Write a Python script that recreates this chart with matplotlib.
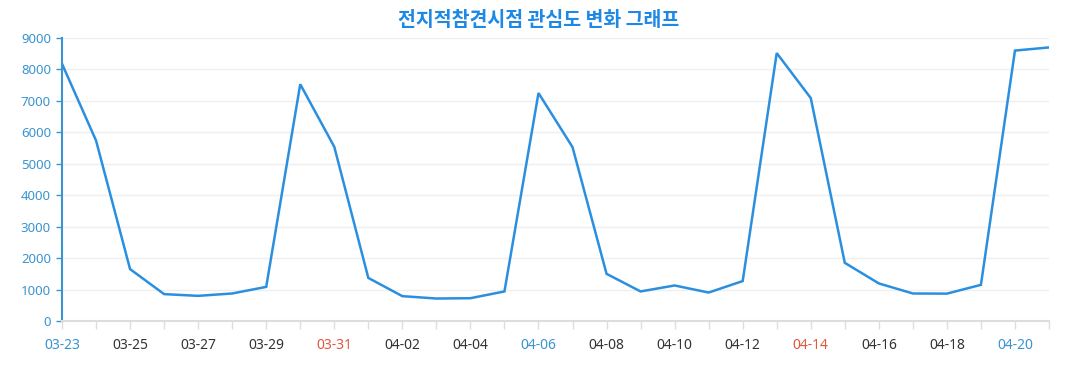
import matplotlib
matplotlib.use("Agg")
import matplotlib.pyplot as plt

dates = ["03-23","03-24","03-25","03-26","03-27","03-28","03-29","03-30","03-31",
         "04-01","04-02","04-03","04-04","04-05","04-06","04-07","04-08","04-09",
         "04-10","04-11","04-12","04-13","04-14","04-15","04-16","04-17","04-18",
         "04-19","04-20","04-21"]
values = [8180, 5740, 1650, 855, 800, 875, 1085, 7530, 5540,
          1370, 790, 715, 725, 940, 7250, 5530, 1500, 940,
          1130, 905, 1270, 8520, 7090, 1850, 1195, 875, 870,
          1150, 8600, 8700]
yticks = [0, 1000, 2000, 3000, 4000, 5000, 6000, 7000, 8000, 9000]
label_colors = {"03-23": "#3a94cf", "03-31": "#e0583e", "04-06": "#3a94cf",
                "04-14": "#e0583e", "04-20": "#3a94cf"}
title = "전지적참견시점 관심도 변화 그래프"

plt.rcParams['font.family'] = ['Noto Sans', 'Noto Sans CJK KR', 'DejaVu Sans']

fig = plt.figure(figsize=(10.77, 3.90), dpi=100)
ax = fig.add_axes([62/1077, 1-321/390, (1049-62)/1077, (321-38)/390])

x = list(range(len(dates)))
ax.plot(x, values, color="#2b8fe0", linewidth=1.8, solid_joinstyle="miter")

ax.set_xlim(0, len(dates) - 1)
ax.set_ylim(0, 9000)
ax.set_yticks(yticks)
ax.set_yticklabels([str(v) for v in yticks])
ax.yaxis.grid(True, color="#efefef", linewidth=1)
ax.set_axisbelow(True)

major = x[::2]
ax.set_xticks(major)
ax.set_xticklabels([dates[i] for i in major])
ax.set_xticks(x, minor=True)
for lbl, i in zip(ax.get_xticklabels(), major):
    lbl.set_color(label_colors.get(dates[i], "#333333"))
    lbl.set_fontsize(10)

ax.tick_params(axis="x", which="both", length=6, width=1, color="#dddddd", pad=6)
ax.tick_params(axis="y", length=4, width=1, color="#3a94cf", labelcolor="#3a94cf",
               labelsize=9.5, pad=4)

for s in ["top", "right"]:
    ax.spines[s].set_visible(False)
ax.spines["left"].set_color("#3a94cf")
ax.spines["left"].set_linewidth(1.5)
ax.spines["bottom"].set_color("#dddddd")
ax.spines["bottom"].set_linewidth(1.5)

fig.text(0.5, 1-20/390, title, ha="center", va="center", fontsize=14,
         fontweight="bold", color="#1e88e5", family=['Noto Sans CJK KR', 'DejaVu Sans'])

fig.savefig("out.png", dpi=100)
